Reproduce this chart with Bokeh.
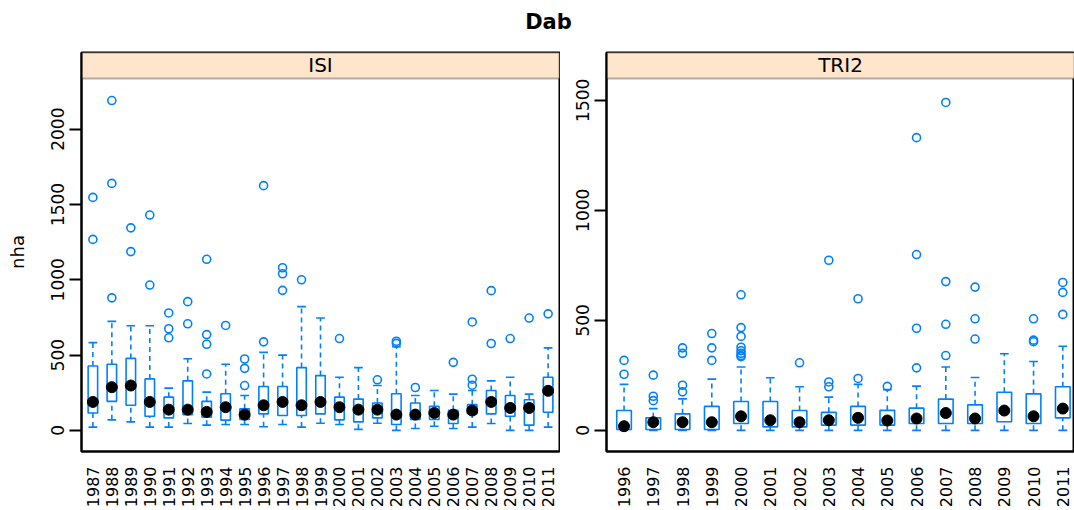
import math
from bokeh.plotting import figure
from bokeh.models import ColumnDataSource, Range1d, FixedTicker, BoxAnnotation, Label
from bokeh.layouts import column, row
from bokeh.embed import file_html
from bokeh.resources import INLINE

# ---------------- data ----------------
title_text = "Dab"
y_label = "nha"

isi_name = "ISI"
isi_years = ["1987", "1988", "1989", "1990", "1991", "1992", "1993", "1994", "1995",
             "1996", "1997", "1998", "1999", "2000", "2001", "2002", "2003", "2004",
             "2005", "2006", "2007", "2008", "2009", "2010", "2011"]
isi_lo = [22, 70, 57, 22, 22, 46, 35, 39, 39, 24, 39, 22, 48, 39, 7, 48, 0, 13, 28, 13, 22, 46, 0, 0, 22]
isi_q1 = [116, 193, 167, 94, 83, 105, 88, 68, 72, 110, 99, 99, 110, 70, 57, 83, 39, 72, 72, 46, 110, 110, 94, 35, 121]
isi_med = [189, 287, 298, 189, 138, 138, 123, 154, 105, 167, 189, 167, 189, 154, 138, 138, 105, 105, 116, 105, 132, 189, 149, 149, 263]
isi_q3 = [428, 439, 478, 342, 221, 329, 193, 243, 143, 292, 292, 417, 364, 221, 208, 182, 243, 182, 160, 134, 171, 265, 232, 204, 353]
isi_hi = [583, 724, 695, 695, 281, 476, 254, 439, 232, 518, 500, 822, 746, 353, 417, 298, 555, 232, 265, 241, 265, 329, 353, 241, 548]
isi_out = [[1268, 1547], [880, 1640, 2190], [1187, 1345], [965, 1430], [615, 675, 780],
           [708, 855], [375, 572, 636, 1136], [697], [298, 412, 474], [588, 1625],
           [930, 1040, 1080], [1000], [], [610], [], [336], [578, 592], [285], [], [452],
           [300, 340, 720], [577, 928], [610], [746], [774]]

tri_name = "TRI2"
tri_years = ["1996", "1997", "1998", "1999", "2000", "2001", "2002", "2003", "2004",
             "2005", "2006", "2007", "2008", "2009", "2010", "2011"]
tri_lo = [0, 0, 0, 0, 0, 0, 0, 0, 0, 0, 0, 0, 0, 0, 0, 0]
tri_q1 = [4, 4, 4, 4, 31, 16, 16, 24, 24, 24, 31, 31, 31, 39, 31, 57]
tri_med = [19, 37, 37, 37, 64, 46, 37, 46, 57, 45, 54, 79, 54, 90, 64, 99]
tri_q3 = [90, 57, 75, 109, 131, 131, 90, 82, 109, 91, 101, 142, 116, 173, 166, 198]
tri_hi = [209, 99, 143, 233, 288, 239, 198, 151, 209, 185, 201, 288, 240, 348, 313, 382]
tri_out = [[255, 318], [135, 155, 251], [175, 205, 350, 375], [318, 375, 440],
           [335, 340, 350, 362, 378, 427, 467, 616], [], [307], [198, 220, 773],
           [236, 598], [200], [284, 464, 799, 1330], [340, 482, 676, 1490],
           [415, 507, 651], [], [403, 410, 507], [527, 627, 672]]

isi_yticks = [0, 500, 1000, 1500, 2000]
tri_yticks = [0, 500, 1000, 1500]

# ---------------- style ----------------
BLUE = "#0080FF"
STRIP = "#FFE5CC"
FONT = "DejaVu Sans"


def panel(name, years, lo, q1, med, q3, hi, out, yticks, yr, strip_bottom, xr_end,
          strip_center, width, border_left, border_right, cap_hw, ylabel=None):
    n = len(years)
    xs = list(range(1, n + 1))
    p = figure(width=width, height=470, output_backend="svg", toolbar_location=None,
               x_range=Range1d(0.4, xr_end), y_range=Range1d(*yr),
               min_border_left=border_left, min_border_right=border_right,
               min_border_top=12, min_border_bottom=56)
    p.grid.visible = False
    p.outline_line_color = "black"
    p.outline_line_width = 2
    p.background_fill_color = "white"
    p.border_fill_color = "white"

    # strip
    p.add_layout(BoxAnnotation(bottom=strip_bottom, fill_color=STRIP, fill_alpha=1.0,
                               line_color="black", line_width=2, level="underlay"))
    p.add_layout(Label(x=strip_center, y=(strip_bottom + yr[1]) / 2,
                       text=name, text_align="center", text_baseline="middle",
                       text_font=FONT, text_font_size="20px", text_color="black"))

    src = ColumnDataSource(dict(
        x=xs, left=[x - 0.25 for x in xs], right=[x + 0.25 for x in xs],
        cl=[x - cap_hw for x in xs], cr=[x + cap_hw for x in xs],
        lo=lo, q1=q1, med=med, q3=q3, hi=hi))

    p.segment(x0="x", x1="x", y0="q3", y1="hi", source=src, line_color=BLUE,
              line_width=1.6, line_dash="5 4")
    p.segment(x0="x", x1="x", y0="lo", y1="q1", source=src, line_color=BLUE,
              line_width=1.6, line_dash="5 4")
    p.segment(x0="cl", x1="cr", y0="hi", y1="hi", source=src, line_color=BLUE, line_width=1.6)
    p.segment(x0="cl", x1="cr", y0="lo", y1="lo", source=src, line_color=BLUE, line_width=1.6)
    p.quad(left="left", right="right", bottom="q1", top="q3", source=src,
           fill_color=None, line_color=BLUE, line_width=1.6)

    ox, oy = [], []
    for x, vals in zip(xs, out):
        for v in vals:
            ox.append(x)
            oy.append(v)
    p.scatter(ox, oy, marker="circle", size=8, fill_color=None, line_color=BLUE,
              line_width=1.6)
    p.scatter(x="x", y="med", source=src, marker="circle", size=11,
              fill_color="black", line_color="black")

    # axes
    xa = p.xaxis[0]
    xa.ticker = FixedTicker(ticks=xs)
    xa.major_label_overrides = {x: y for x, y in zip(xs, years)}
    xa.major_label_orientation = math.pi / 2
    xa.major_tick_out = 0
    xa.major_tick_in = 0
    xa.minor_tick_out = 0
    xa.minor_tick_in = 0
    xa.major_label_standoff = 15
    xa.axis_line_color = "black"
    xa.axis_line_width = 2
    xa.major_label_text_font = FONT
    xa.major_label_text_font_size = "16px"
    xa.major_label_text_color = "black"

    ya = p.yaxis[0]
    ya.ticker = FixedTicker(ticks=yticks)
    ya.major_label_orientation = "vertical"
    ya.major_tick_out = 12
    ya.major_tick_in = 0
    ya.minor_tick_out = 0
    ya.minor_tick_in = 0
    ya.major_tick_line_width = 2
    ya.major_tick_line_color = "black"
    ya.major_label_standoff = 5
    ya.axis_line_color = "black"
    ya.axis_line_width = 2
    ya.major_label_text_font = FONT
    ya.major_label_text_font_size = "17px"
    ya.major_label_text_color = "black"
    if ylabel:
        ya.axis_label = ylabel
        ya.axis_label_text_font = FONT
        ya.axis_label_text_font_size = "18px"
        ya.axis_label_text_font_style = "normal"
        ya.axis_label_text_color = "black"
        ya.axis_label_standoff = 21
    return p


p1 = panel(isi_name, isi_years, isi_lo, isi_q1, isi_med, isi_q3, isi_hi, isi_out,
           isi_yticks, (-140, 2509), 2337, 25.6, 13.0, 560, 81, 1, 0.23, ylabel=y_label)
p2 = panel(tri_name, tri_years, tri_lo, tri_q1, tri_med, tri_q3, tri_hi, tri_out,
           tri_yticks, (-96, 1717), 1599, 16.40, 8.4, 514, 46, 0, 0.15)

# title strip
p0 = figure(width=1074, height=40, output_backend="svg", toolbar_location=None,
            x_range=Range1d(0, 1), y_range=Range1d(0, 1),
            x_axis_location=None, y_axis_location=None,
            min_border_left=0, min_border_right=0, min_border_top=0, min_border_bottom=0)
p0.grid.visible = False
p0.outline_line_color = None
p0.add_layout(Label(x=548, y=19, x_units="screen", y_units="screen", text=title_text,
                    text_align="center", text_baseline="middle", text_font=FONT,
                    text_font_size="21px", text_font_style="bold", text_color="black"))

layout = column(p0, row(p1, p2, spacing=0), spacing=0)
open("out.html", "w").write(file_html(layout, INLINE))
